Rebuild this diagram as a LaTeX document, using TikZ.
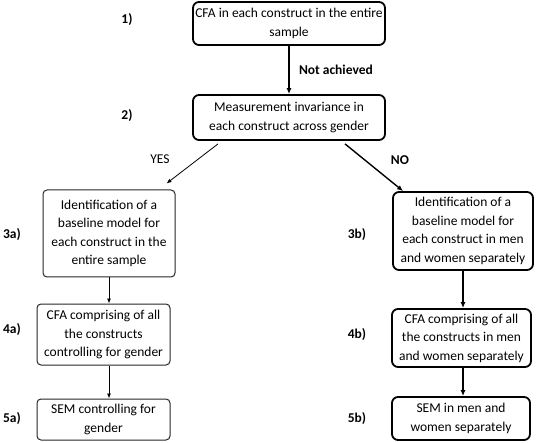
\documentclass[tikz,border=0pt]{standalone}
\usepackage{fontspec}
\setmainfont{Carlito}
\usetikzlibrary{arrows.meta,calc}

\begin{document}
\begin{tikzpicture}[%%
  x=1pt,y=1pt,%%
  boxStyle/.style={draw=black!85,line width=1pt,rounded corners=4pt,align=center,font=\fontsize{13.5}{18.5}\selectfont,inner sep=1pt},%%
  thickBoxStyle/.style={boxStyle,draw=black,line width=1.8pt,rounded corners=6pt},%%
  arrowStyle/.style={-{Latex[length=5pt,width=4pt]},line width=0.8pt},%%
  thickArrowStyle/.style={-{Latex[length=6pt,width=5pt]},line width=1.4pt},%%
  labelStyle/.style={font=\fontsize{13.5}{16}\selectfont\bfseries}
]
%%
%%
\useasboundingbox (0,0) rectangle (540,-443);
%%
%% The first two steps.
\node (b1) at (289,-23.5) [thickBoxStyle,minimum width=192pt,minimum height=43pt]
  {CFA in each construct in the entire\\sample};
\node (b2) at (289,-117.5) [thickBoxStyle,minimum width=192pt,minimum height=45pt]
  {Measurement invariance in\\each construct across gender};
%%
%% The YES branch.
\node (b3a) at (109,-233.5) [boxStyle,minimum width=132pt,minimum height=87pt]
  {Identification of a\\baseline model for\\each construct in the\\entire sample};
\node (b4a) at (103.5,-334.5) [boxStyle,minimum width=133pt,minimum height=61pt]
  {CFA comprising of all\\the constructs\\controlling for gender};
\node (b5a) at (103.5,-419.5) [boxStyle,minimum width=133pt,minimum height=41pt]
  {SEM controlling for\\gender};
%%
%% The NO branch.
\node (b3b) at (463,-231) [thickBoxStyle,minimum width=140pt,minimum height=78pt]
  {Identification of a\\baseline model for\\each construct in men\\and women separately};
\node (b4b) at (461.5,-338) [thickBoxStyle,minimum width=139pt,minimum height=58pt]
  {CFA comprising of all\\the constructs in men\\and women separately};
\node (b5b) at (461,-418.5) [thickBoxStyle,minimum width=138pt,minimum height=43pt]
  {SEM in men and\\women separately};
%%
%% Step numbers.
\node (n1) at (127,-20) [labelStyle] {1)};
\node (n2) at (127,-116) [labelStyle] {2)};
\node (n3a) at (12,-235) [labelStyle] {3a)};
\node (n3b) at (357,-235) [labelStyle] {3b)};
\node (n4a) at (12,-330) [labelStyle] {4a)};
\node (n4b) at (357,-335) [labelStyle] {4b)};
\node (n5a) at (12,-419) [labelStyle] {5a)};
\node (n5b) at (357,-419) [labelStyle] {5b)};
%%
%% Connectors.
\draw[thickArrowStyle] (b1) -- (b2)
  node[midway,right=6pt,labelStyle] {Not achieved};
\draw[arrowStyle] ($(b2.south)+(-71,-3)$) -- ($(b3a.north east)+(-9,6)$);
\node at (160,-159) [font=\fontsize{13.5}{16}\selectfont] {YES};
\draw[thickArrowStyle] ($(b2.south)+(56,-3)$) -- ($(b3b.north west)+(11,0)$);
\node at (400,-160) [labelStyle] {NO};
\draw[arrowStyle] (b3a.south) -- (b3a.south |- b4a.north);
\draw[arrowStyle] (b4a.south -| b3a.south) -- (b5a.north -| b3a.south);
\draw[thickArrowStyle] (b3b.south) -- (b3b.south |- b4b.north);
\draw[thickArrowStyle] (b4b.south -| b3b.south) -- (b5b.north -| b3b.south);
\end{tikzpicture}
\end{document}
